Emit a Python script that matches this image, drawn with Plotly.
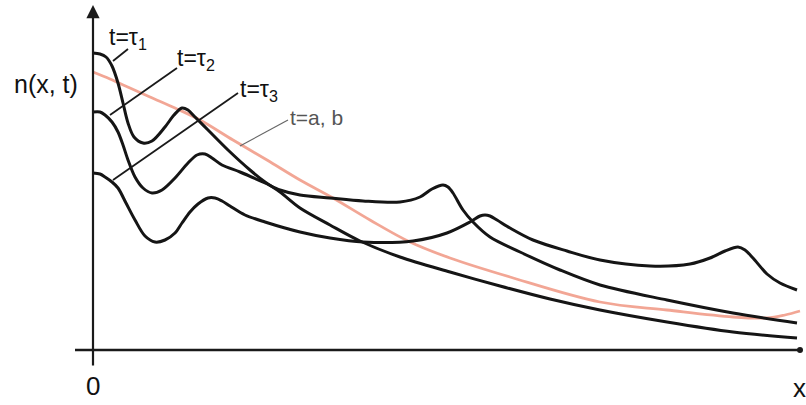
import plotly.graph_objects as go

# Values (arbitrary units: x along the axis, n upward)
x_tau1 = [0, 7, 13, 19, 25, 30, 35, 41, 50, 59, 72, 81, 89, 95, 102, 115, 135, 157, 172, 187, 207, 237, 267, 307, 357, 407, 457, 507, 574, 640, 704]
n_tau1 = [297, 296, 293, 284, 267, 247, 227, 213, 207, 209, 223, 235, 242, 240, 233, 220, 200, 180, 168, 158, 142, 125, 109, 93, 78, 64, 51, 40, 28, 18, 12]

x_tau2 = [0, 7, 12, 19, 25, 30, 35, 42, 50, 59, 69, 82, 95, 104, 112, 119, 129, 147, 172, 187, 207, 237, 270, 307, 327, 339, 350, 355, 360, 370, 380, 397, 427, 467, 507, 574, 640, 704]
n_tau2 = [238, 238, 235, 228, 218, 205, 190, 173, 162, 157, 160, 172, 187, 195, 196, 192, 185, 178, 167, 160, 155, 152, 149, 148, 153, 161, 165, 163, 157, 140, 128, 113, 98, 80, 65, 50, 37, 27]

x_tau3 = [0, 7, 12, 19, 25, 33, 42, 52, 62, 72, 82, 89, 97, 105, 115, 122, 129, 137, 152, 172, 207, 237, 270, 320, 354, 377, 387, 392, 397, 404, 417, 440, 474, 507, 557, 597, 617, 632, 645, 652, 660, 674, 687, 704]
n_tau3 = [177, 176, 173, 168, 162, 147, 130, 114, 108, 110, 117, 127, 138, 146, 152, 152, 149, 144, 135, 128, 118, 112, 108, 109, 117, 128, 134, 135, 134, 130, 122, 110, 99, 90, 84, 86, 92, 99, 103, 100, 92, 76, 67, 60]

x_ab = [0, 17, 37, 57, 82, 107, 140, 174, 207, 240, 277, 317, 357, 417, 507, 574, 640, 674, 692, 707]
n_ab = [278, 271, 262, 253, 242, 230, 210, 190, 170, 152, 130, 108, 92, 73, 48, 40, 33, 32, 35, 39]

labels = ["t=τ<sub>1</sub>", "t=τ<sub>2</sub>", "t=τ<sub>3</sub>", "t=a, b"]
label_pos = [(14, 312), (82, 291), (145, 260), (195, 233)]
leader_from = [(20, 289), (17, 235), (20, 170), (147, 204)]
leader_to = [(35, 301), (84, 282), (145, 257), (195, 230)]

X_MIN, X_MAX = -93, 713
N_MIN, N_MAX = -55, 350
AXIS_X_END = 707
AXIS_N_TOP = 345

fig = go.Figure()

fig.add_trace(go.Scatter(x=x_ab, y=n_ab, mode="lines", line=dict(color="rgba(240,150,130,0.85)", width=2.8, shape="spline"), hoverinfo="skip"))
for xs, ns in [(x_tau1, n_tau1), (x_tau2, n_tau2), (x_tau3, n_tau3)]:
    fig.add_trace(go.Scatter(x=xs, y=ns, mode="lines", line=dict(color="#151515", width=3, shape="spline", smoothing=0.9), hoverinfo="skip"))

# axes
fig.add_shape(type="line", x0=-18, y0=0, x1=AXIS_X_END, y1=0, line=dict(color="#1a1a1a", width=2.5))
fig.add_annotation(x=0, y=AXIS_N_TOP, ax=0, ay=-17, xref="x", yref="y", axref="x", ayref="y",
                   showarrow=True, arrowhead=2, arrowsize=1.2, arrowwidth=2.2, arrowcolor="#1a1a1a", text="")
fig.add_trace(go.Scatter(x=[AXIS_X_END], y=[0], mode="markers", marker=dict(color="#1a1a1a", size=6), hoverinfo="skip"))

# leader lines and labels
for i, (lab, (lx, ly), (fx, fy), (tx, ty)) in enumerate(zip(labels, label_pos, leader_from, leader_to)):
    col = "#666666" if i == 3 else "#1a1a1a"
    wid = 1.2 if i == 3 else 1.8
    fig.add_shape(type="line", x0=fx, y0=fy, x1=tx, y1=ty, line=dict(color=col, width=wid))
    fig.add_annotation(x=lx, y=ly, text=lab, showarrow=False, xanchor="left", yanchor="middle",
                       font=dict(family="Arial", size=21 if i == 3 else 23, color="#555555" if i == 3 else "#111111"))

fig.add_annotation(x=-47, y=266, text="n(x, t)", showarrow=False, xanchor="center", yanchor="middle",
                   font=dict(family="Arial", size=25, color="#111111"))
fig.add_annotation(x=0, y=-36, text="0", showarrow=False, xanchor="center", yanchor="middle",
                   font=dict(family="Arial", size=26, color="#111111"))
fig.add_annotation(x=706, y=-38, text="x", showarrow=False, xanchor="center", yanchor="middle",
                   font=dict(family="Arial", size=26, color="#111111"))

fig.update_layout(
    width=806, height=405, margin=dict(l=0, r=0, t=0, b=0),
    paper_bgcolor="white", plot_bgcolor="white", showlegend=False,
    xaxis=dict(range=[X_MIN, X_MAX], visible=False, fixedrange=True),
    yaxis=dict(range=[N_MIN, N_MAX], visible=False, fixedrange=True),
)

fig.write_html("out.html", config={"displayModeBar": False},
               post_script="document.body.style.margin='0';document.body.style.overflow='hidden';")
